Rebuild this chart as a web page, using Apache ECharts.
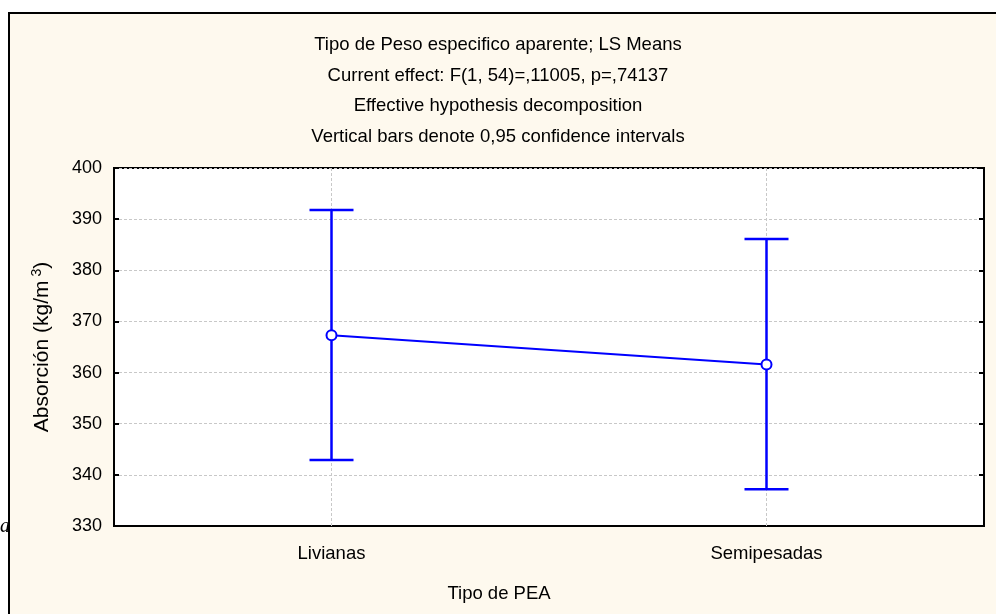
<!DOCTYPE html>
<html>
<head>
<meta charset="utf-8">
<script src="https://cdn.jsdelivr.net/npm/echarts@6/dist/echarts.min.js"></script>
<style>html,body{margin:0;padding:0;background:#fff;}#c{width:996px;height:614px;}</style>
</head>
<body>
<div id="c"></div>
<script>
const categories = ['Livianas', 'Semipesadas'];
const means = [367.3, 361.6];
const lower = [342.9, 337.2];
const upper = [391.8, 386.1];
const yTicks = {min: 330, max: 400, interval: 10};
const titleLines = [
  'Tipo de Peso especifico aparente; LS Means',
  'Current effect: F(1, 54)=,11005, p=,74137',
  'Effective hypothesis decomposition',
  'Vertical bars denote 0,95 confidence intervals'
];
const xName = 'Tipo de PEA';
const yName = 'Absorción (kg/m{sup|3})';

const FONT = '"Liberation Sans", Arial, sans-serif';
const chart = echarts.init(document.getElementById('c'));
const errData = categories.map((c, i) => [i, lower[i], upper[i]]);
chart.setOption({
  backgroundColor: '#ffffff',
  animation: false,
  graphic: [
    {type: 'rect', z: -10, shape: {x: 9, y: 13, width: 1100, height: 700},
     style: {fill: '#FEF9EE', stroke: '#000', lineWidth: 2}},
    {type: 'text', x: 0, y: 517, z: 5,
     style: {text: 'a', font: 'italic 20px "Liberation Serif", serif', fill: '#000'}},
    {type: 'text', x: 499, y: 594, z: 5,
     style: {text: xName, font: '18.5px ' + FONT, fill: '#000', textAlign: 'center', textVerticalAlign: 'middle'}}
  ],
  title: {
    text: titleLines.join('\n'),
    left: 'center', top: 30, padding: 0,
    textStyle: {fontFamily: FONT, fontSize: 18.5, fontWeight: 'normal', color: '#000', lineHeight: 30.5}
  },
  grid: {left: 114, top: 168, right: 12, bottom: 88, show: true, borderColor: '#000', borderWidth: 2, backgroundColor: '#fff'},
  xAxis: {
    type: 'category', data: categories, boundaryGap: true,
    axisLine: {show: true, lineStyle: {color: '#000', width: 2}},
    axisTick: {show: false},
    axisLabel: {color: '#000', fontFamily: FONT, fontSize: 18.5, margin: 18},
    splitLine: {show: false}
  },
  yAxis: [{
    type: 'value', min: yTicks.min, max: yTicks.max, interval: yTicks.interval,
    axisLine: {show: true, lineStyle: {color: '#000', width: 2}},
    axisTick: {show: true, inside: true, length: 5, lineStyle: {color: '#000', width: 2}},
    axisLabel: {color: '#000', fontFamily: FONT, fontSize: 18, margin: 12},
    splitLine: {show: true, lineStyle: {color: '#c8c8c8', type: [3, 2], width: 1}},
    name: yName, nameLocation: 'middle', nameGap: 60, nameRotate: 90,
    nameTextStyle: {color: '#000', fontFamily: FONT, fontSize: 21,
      rich: {sup: {fontFamily: FONT, fontSize: 14, verticalAlign: 'top', padding: [0, 0, 10, 4], color: '#000'}}}
  }, {
    type: 'value', position: 'right', min: yTicks.min, max: yTicks.max, interval: yTicks.interval,
    axisLine: {show: true, lineStyle: {color: '#000', width: 2}},
    axisTick: {show: true, inside: true, length: 5, lineStyle: {color: '#000', width: 2}},
    axisLabel: {show: false}, splitLine: {show: false}
  }],
  series: [
    {
      type: 'custom', z: 3, data: errData,
      renderItem: function (params, api) {
        const x = api.value(0);
        const lo = api.coord([x, api.value(1)]);
        const hi = api.coord([x, api.value(2)]);
        const top = api.coord([x, yTicks.max]);
        const bot = api.coord([x, yTicks.min]);
        const hw = 22;
        const st = {stroke: '#0000ff', lineWidth: 2.5};
        return {type: 'group', children: [
          {type: 'line', shape: {x1: top[0], y1: top[1], x2: bot[0], y2: bot[1]},
           style: {stroke: '#c8c8c8', lineWidth: 1, lineDash: [3, 2]}},
          {type: 'line', shape: {x1: lo[0], y1: lo[1], x2: hi[0], y2: hi[1]}, style: st},
          {type: 'line', shape: {x1: lo[0] - hw, y1: lo[1], x2: lo[0] + hw, y2: lo[1]}, style: st},
          {type: 'line', shape: {x1: hi[0] - hw, y1: hi[1], x2: hi[0] + hw, y2: hi[1]}, style: st}
        ]};
      }
    },
    {
      type: 'line', z: 4, data: means, symbol: 'circle', symbolSize: 10,
      lineStyle: {color: '#0000ff', width: 2},
      itemStyle: {color: '#ffffff', borderColor: '#0000ff', borderWidth: 2}
    }
  ]
});
</script>
</body>
</html>
